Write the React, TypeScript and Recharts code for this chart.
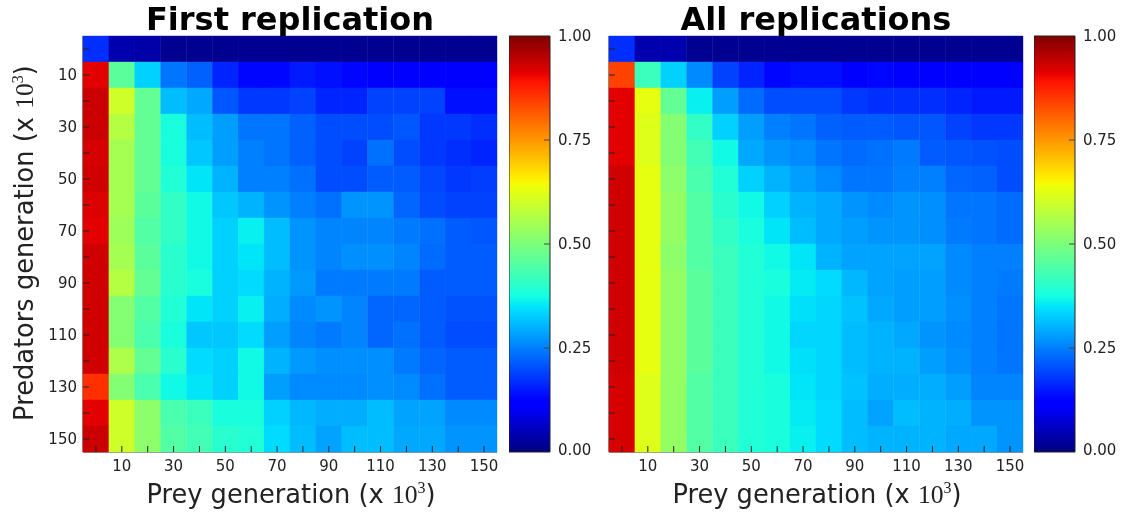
import { ScatterChart, Scatter, BarChart, Bar, XAxis, YAxis } from 'recharts'

const preyGenerations = [0, 10, 20, 30, 40, 50, 60, 70, 80, 90, 100, 110, 120, 130, 140, 150]
const predatorGenerations = [0, 10, 20, 30, 40, 50, 60, 70, 80, 90, 100, 110, 120, 130, 140, 150]
const labelledTicks = [10, 30, 50, 70, 90, 110, 130, 150]
const colorbarTicks = [0, 0.25, 0.5, 0.75, 1]

// one row per predator generation, one value per prey generation
const firstReplication = [
  [0.17, 0.04, 0.035, 0.015, 0.015, 0.015, 0.015, 0.015, 0.015, 0.015, 0.015, 0.015, 0.015, 0.015, 0.015, 0.015],
  [0.915, 0.46, 0.33, 0.24, 0.22, 0.16, 0.13, 0.13, 0.15, 0.14, 0.13, 0.12, 0.12, 0.12, 0.12, 0.12],
  [0.935, 0.6, 0.47, 0.31, 0.29, 0.21, 0.18, 0.18, 0.19, 0.16, 0.16, 0.19, 0.19, 0.19, 0.14, 0.14],
  [0.935, 0.57, 0.47, 0.38, 0.31, 0.28, 0.24, 0.24, 0.22, 0.2, 0.2, 0.2, 0.21, 0.18, 0.18, 0.17],
  [0.925, 0.55, 0.47, 0.38, 0.32, 0.28, 0.25, 0.24, 0.22, 0.2, 0.19, 0.235, 0.2, 0.18, 0.17, 0.16],
  [0.93, 0.55, 0.47, 0.39, 0.35, 0.3, 0.25, 0.25, 0.235, 0.2, 0.2, 0.215, 0.215, 0.195, 0.18, 0.185],
  [0.92, 0.55, 0.46, 0.41, 0.37, 0.32, 0.3, 0.27, 0.25, 0.235, 0.27, 0.27, 0.225, 0.2, 0.19, 0.19],
  [0.915, 0.54, 0.45, 0.41, 0.37, 0.33, 0.36, 0.31, 0.27, 0.255, 0.255, 0.255, 0.245, 0.235, 0.215, 0.21],
  [0.93, 0.55, 0.46, 0.4, 0.37, 0.33, 0.35, 0.31, 0.27, 0.255, 0.265, 0.265, 0.255, 0.23, 0.215, 0.215],
  [0.93, 0.57, 0.47, 0.4, 0.38, 0.33, 0.34, 0.3, 0.275, 0.245, 0.245, 0.245, 0.245, 0.215, 0.215, 0.215],
  [0.93, 0.51, 0.45, 0.39, 0.35, 0.33, 0.36, 0.295, 0.26, 0.27, 0.255, 0.225, 0.225, 0.215, 0.205, 0.205],
  [0.93, 0.51, 0.44, 0.38, 0.32, 0.32, 0.34, 0.28, 0.255, 0.245, 0.255, 0.225, 0.235, 0.215, 0.2, 0.2],
  [0.93, 0.56, 0.47, 0.4, 0.34, 0.33, 0.37, 0.3, 0.275, 0.265, 0.265, 0.265, 0.245, 0.225, 0.215, 0.215],
  [0.86, 0.51, 0.44, 0.37, 0.35, 0.33, 0.37, 0.28, 0.26, 0.26, 0.26, 0.265, 0.26, 0.235, 0.215, 0.215],
  [0.915, 0.6, 0.52, 0.44, 0.42, 0.38, 0.38, 0.33, 0.305, 0.295, 0.295, 0.31, 0.285, 0.285, 0.26, 0.26],
  [0.935, 0.6, 0.52, 0.45, 0.43, 0.4, 0.39, 0.34, 0.31, 0.285, 0.31, 0.31, 0.29, 0.29, 0.27, 0.27],
]

const allReplications = [
  [0.17, 0.04, 0.04, 0.015, 0.015, 0.015, 0.015, 0.015, 0.015, 0.015, 0.015, 0.015, 0.015, 0.015, 0.015, 0.015],
  [0.84, 0.42, 0.33, 0.26, 0.19, 0.16, 0.13, 0.14, 0.14, 0.12, 0.13, 0.12, 0.12, 0.115, 0.12, 0.115],
  [0.915, 0.63, 0.47, 0.36, 0.28, 0.23, 0.2, 0.2, 0.2, 0.18, 0.17, 0.17, 0.17, 0.16, 0.15, 0.15],
  [0.915, 0.62, 0.51, 0.41, 0.33, 0.28, 0.25, 0.24, 0.22, 0.215, 0.215, 0.21, 0.21, 0.19, 0.18, 0.18],
  [0.915, 0.62, 0.51, 0.43, 0.37, 0.29, 0.27, 0.26, 0.24, 0.23, 0.235, 0.245, 0.215, 0.21, 0.205, 0.2],
  [0.93, 0.63, 0.52, 0.44, 0.39, 0.33, 0.3, 0.28, 0.26, 0.24, 0.24, 0.25, 0.25, 0.225, 0.22, 0.2],
  [0.93, 0.63, 0.53, 0.45, 0.4, 0.37, 0.33, 0.3, 0.29, 0.27, 0.26, 0.27, 0.265, 0.24, 0.24, 0.23],
  [0.93, 0.63, 0.53, 0.45, 0.41, 0.38, 0.35, 0.31, 0.29, 0.28, 0.27, 0.27, 0.265, 0.245, 0.24, 0.23],
  [0.93, 0.63, 0.52, 0.45, 0.42, 0.39, 0.37, 0.35, 0.3, 0.285, 0.285, 0.285, 0.285, 0.26, 0.25, 0.25],
  [0.93, 0.63, 0.53, 0.46, 0.42, 0.39, 0.38, 0.355, 0.34, 0.305, 0.285, 0.28, 0.28, 0.26, 0.25, 0.245],
  [0.93, 0.63, 0.53, 0.46, 0.42, 0.39, 0.37, 0.345, 0.335, 0.315, 0.29, 0.28, 0.28, 0.265, 0.25, 0.24],
  [0.93, 0.63, 0.53, 0.46, 0.42, 0.39, 0.37, 0.335, 0.335, 0.31, 0.3, 0.29, 0.27, 0.26, 0.25, 0.24],
  [0.93, 0.63, 0.53, 0.46, 0.42, 0.39, 0.37, 0.345, 0.335, 0.31, 0.3, 0.3, 0.28, 0.265, 0.25, 0.24],
  [0.925, 0.62, 0.53, 0.45, 0.42, 0.39, 0.38, 0.35, 0.335, 0.315, 0.295, 0.295, 0.295, 0.28, 0.255, 0.255],
  [0.925, 0.62, 0.53, 0.45, 0.42, 0.39, 0.38, 0.355, 0.34, 0.31, 0.285, 0.31, 0.3, 0.295, 0.27, 0.27],
  [0.925, 0.62, 0.53, 0.45, 0.42, 0.39, 0.38, 0.36, 0.34, 0.31, 0.3, 0.3, 0.3, 0.29, 0.29, 0.27],
]

// matplotlib jet breakpoints
const jetRed = [[0, 0], [0.35, 0], [0.66, 1], [0.89, 1], [1, 0.5]]
const jetGreen = [[0, 0], [0.125, 0], [0.375, 1], [0.64, 1], [0.91, 0], [1, 0]]
const jetBlue = [[0, 0.5], [0.11, 1], [0.34, 1], [0.65, 0], [1, 0]]
const jetStops = [0, 0.11, 0.125, 0.34, 0.35, 0.375, 0.64, 0.65, 0.66, 0.89, 0.91, 1]

const channel = (points: number[][], v: number) => {
  for (let i = 1; i < points.length; i++) {
    if (v <= points[i][0]) {
      const [x0, y0] = points[i - 1]
      const [x1, y1] = points[i]
      return Math.round((y0 + ((v - x0) / (x1 - x0)) * (y1 - y0)) * 255)
    }
  }
  return Math.round(points[points.length - 1][1] * 255)
}
const jet = (v: number) => `rgb(${channel(jetRed, v)},${channel(jetGreen, v)},${channel(jetBlue, v)})`

const PLOT_W = 414
const PLOT_H = 416
const LEFT = 83
const TOP = 36
const BOTTOM = 64
const CHART_W = 510
const CHART_H = 516
const FONT = '"DejaVu Sans", sans-serif'
const INK = '#222'
const TICK_FONT = 15

function XTick({ x, y, payload, dir, labelled }: any) {
  const show = labelled && labelledTicks.includes(payload.value)
  return (
    <g>
      <line x1={x} x2={x} y1={y} y2={y + dir * 6} stroke={INK} />
      {show && (
        <text x={x} y={y + 18.5} textAnchor="middle" fontSize={TICK_FONT} fontFamily={FONT} fill={INK}>
          {payload.value}
        </text>
      )}
    </g>
  )
}

function YTick({ x, y, payload, dir, labelled }: any) {
  const show = labelled && labelledTicks.includes(payload.value)
  return (
    <g>
      <line x1={x} x2={x + dir * 6} y1={y} y2={y} stroke={INK} />
      {show && (
        <text x={x - 6} y={y + 5} textAnchor="end" fontSize={TICK_FONT} fontFamily={FONT} fill={INK}>
          {payload.value}
        </text>
      )}
    </g>
  )
}

function HeatCell({ cx, cy, payload }: any) {
  const w = PLOT_W / preyGenerations.length + 0.4
  const h = PLOT_H / predatorGenerations.length + 0.4
  return <rect x={cx - w / 2} y={cy - h / 2} width={w} height={h} fill={jet(payload.value)} />
}

function Heatmap({ title, matrix, left, yLabels }: { title: string; matrix: number[][]; left: number; yLabels: boolean }) {
  const cells = matrix.flatMap((row, r) =>
    row.map((value, c) => ({ prey: preyGenerations[c], pred: predatorGenerations[r], value }))
  )
  const labelSize = 25.7
  const genLabel = (start: string) => (
    <>
      {start} (x <tspan fontFamily='"Liberation Serif", serif'>10</tspan>
      <tspan fontFamily='"Liberation Serif", serif' fontSize={16} dy={-10}>3</tspan>
      <tspan dy={10}>)</tspan>
    </>
  )
  return (
    <div style={{ position: 'absolute', left, top: 0 }}>
      <ScatterChart width={CHART_W} height={CHART_H} margin={{ top: TOP, right: CHART_W - LEFT - PLOT_W, bottom: 0, left: 0 }}>
        <Scatter data={cells} xAxisId="x" yAxisId="y" dataKey="value" shape={<HeatCell />} isAnimationActive={false} />
        <XAxis xAxisId="x" type="number" dataKey="prey" domain={[-5, 155]} ticks={preyGenerations} interval={0} height={BOTTOM}
          stroke={INK} tickSize={0} tickMargin={0} tickLine={false} tick={<XTick dir={-1} labelled />} />
        <XAxis xAxisId="top" orientation="top" type="number" domain={[-5, 155]} ticks={preyGenerations} interval={0} height={0}
          stroke={INK} tickSize={0} tickMargin={0} tickLine={false} tick={<XTick dir={1} />} />
        <YAxis yAxisId="y" type="number" dataKey="pred" reversed domain={[-5, 155]} ticks={predatorGenerations} interval={0} width={LEFT}
          stroke={INK} tickSize={0} tickMargin={0} tickLine={false} tick={<YTick dir={1} labelled={yLabels} />} />
        <YAxis yAxisId="right" orientation="right" type="number" reversed domain={[-5, 155]} ticks={predatorGenerations} interval={0} width={0}
          stroke={INK} tickSize={0} tickMargin={0} tickLine={false} tick={<YTick dir={-1} />} />
        <text x={LEFT + PLOT_W / 2} y={30} textAnchor="middle" fontSize={32} fontWeight="bold" fontFamily={FONT} fill="#000">
          {title}
        </text>
        <text x={LEFT + PLOT_W / 2 + 1} y={503} textAnchor="middle" fontSize={labelSize} fontFamily={FONT} fill={INK}>
          {genLabel('Prey generation')}
        </text>
        {yLabels && (
          <text x={0} y={0} transform="translate(33 243) rotate(-90)" textAnchor="middle" fontSize={labelSize} fontFamily={FONT} fill={INK}>
            {genLabel('Predators generation')}
          </text>
        )}
      </ScatterChart>
    </div>
  )
}

function BarTick({ x, y, payload }: any) {
  return (
    <g>
      {payload.value > 0 && payload.value < 1 && <line x1={x} x2={x - 6} y1={y} y2={y} stroke="#444" />}
      <text x={x + 8} y={payload.value === 0 ? y + 3 : y + 5} fontSize={TICK_FONT} fontFamily={FONT} fill={INK}>
        {payload.value.toFixed(2)}
      </text>
    </g>
  )
}

function Colorbar({ id, left }: { id: string; left: number }) {
  return (
    <div style={{ position: 'absolute', left, top: 0 }}>
      <BarChart width={100} height={CHART_H} data={[{ name: 'scale', value: 1 }]} barCategoryGap={0}
        margin={{ top: TOP, right: 0, bottom: BOTTOM, left: 0 }}>
        <defs>
          <linearGradient id={id} x1="0" y1="1" x2="0" y2="0">
            {jetStops.map((s) => (
              <stop key={s} offset={s} stopColor={jet(s)} />
            ))}
          </linearGradient>
        </defs>
        <XAxis dataKey="name" hide />
        <Bar dataKey="value" fill={`url(#${id})`} stroke={INK} isAnimationActive={false} />
        <YAxis orientation="right" type="number" domain={[0, 1]} ticks={colorbarTicks} interval={0} width={59}
          axisLine={false} tickSize={0} tickMargin={0} tickLine={false} tick={<BarTick />} />
      </BarChart>
    </div>
  )
}

export default function App() {
  return (
    <div style={{ position: 'absolute', left: 0, top: 0, width: 1125, height: 516, background: '#fff', overflow: 'hidden', filter: 'blur(0.4px)' }}>
      <Heatmap title="First replication" matrix={firstReplication} left={0} yLabels />
      <Colorbar id="jetA" left={509} />
      <Heatmap title="All replications" matrix={allReplications} left={526} yLabels={false} />
      <Colorbar id="jetB" left={1034} />
    </div>
  )
}
